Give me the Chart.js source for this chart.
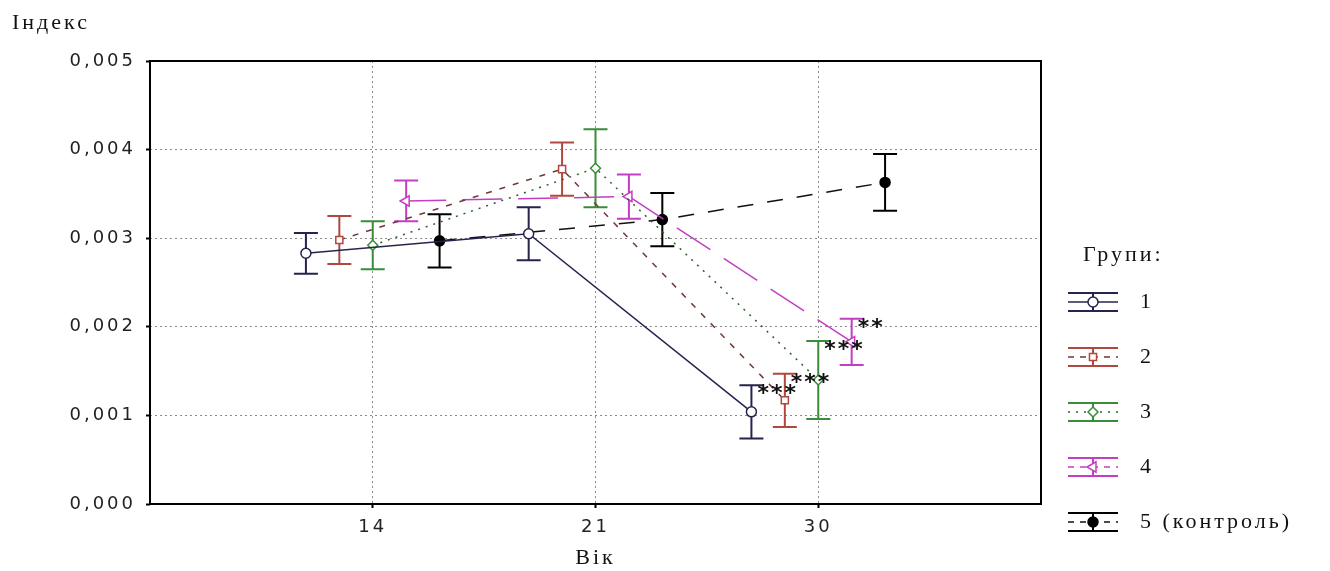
<!DOCTYPE html>
<html>
<head>
<meta charset="utf-8">
<script src="https://cdn.jsdelivr.net/npm/chart.js@4.4.0/dist/chart.umd.min.js"></script>
<style>
  html, body { margin: 0; padding: 0; background: #fff; }
  #wrap { width: 1330px; height: 571px; position: relative; }
</style>
</head>
<body>
<div id="wrap"><canvas id="indexChart"></canvas></div>
<script>
// вікові точки (доба)
const ages = ['14', '21', '30'];
const groupNames = ['1', '2', '3', '4', '5 (контроль)'];

// середні значення індексу по групах
const mean1 = [0.00283, 0.00305, 0.00104];
const mean2 = [0.00298, 0.00378, 0.00117];
const mean3 = [0.00292, 0.00379, 0.00140];
const mean4 = [0.00342, 0.00347, 0.00183];
const mean5 = [0.00297, 0.00321, 0.00363];

// похибка (півширина вусів)
const err1 = [0.00023, 0.00030, 0.00030];
const err2 = [0.00027, 0.00030, 0.00030];
const err3 = [0.00027, 0.00044, 0.00044];
const err4 = [0.00023, 0.00025, 0.00026];
const err5 = [0.00030, 0.00030, 0.00032];

// позначки достовірності на 30 добу
const stars30 = ['***', '***', '***', '**', ''];

const yTicks = [0, 0.001, 0.002, 0.003, 0.004, 0.005];

const means = [mean1, mean2, mean3, mean4, mean5];
const errs = [err1, err2, err3, err4, err5];

const colors = ['#24244e', '#b0483f', '#3a8c3a', '#c33ec3', '#000000'];
const lineColors = ['#24244e', '#6e3a34', '#2f5f2f', '#c33ec3', '#111111'];
const dashes = [[], [6, 8], [2, 6], [40, 16], [16, 14]];
const shapes = ['circle', 'rect', 'rectRot', 'triangle', 'circle'];
const rotations = [0, 0, 0, -90, 0];
const fills = ['#fff', '#fff', '#fff', '#fff', '#000'];

const SANS = '"DejaVu Sans"';
const SERIF = '"Liberation Serif"';

const datasets = means.map((m, g) => ({
    label: groupNames[g],
    data: m.map((v, i) => ({ x: i + 1 + (g - 2) * 0.15, y: v })),
    errors: errs[g],
    stars: ages.map((_, i) => i === 2 ? stars30[g] : ''),
    barColor: colors[g],
    borderColor: lineColors[g],
    borderWidth: 1.5,
    borderDash: dashes[g],
    pointStyle: shapes[g],
    rotation: rotations[g],
    pointRadius: g === 3 ? 6 : 5,
    pointBackgroundColor: fills[g],
    pointBorderColor: colors[g],
    pointBorderWidth: 1.5,
    fill: false,
    tension: 0
}));

// рамка + вуси похибок під лініями
const errorBars = {
    id: 'errorBars',
    beforeDatasetsDraw(chart) {
        const { ctx, chartArea: a, scales: { x, y } } = chart;
        ctx.save();
        ctx.strokeStyle = '#000';
        ctx.lineWidth = 2;
        ctx.strokeRect(a.left, a.top, a.right - a.left, a.bottom - a.top);
        chart.data.datasets.forEach(ds => {
            ctx.strokeStyle = ds.barColor;
            ctx.lineWidth = 2;
            ds.data.forEach((p, i) => {
                const px = x.getPixelForValue(p.x);
                const top = y.getPixelForValue(p.y + ds.errors[i]);
                const bot = y.getPixelForValue(p.y - ds.errors[i]);
                ctx.beginPath();
                ctx.moveTo(px, top); ctx.lineTo(px, bot);
                ctx.moveTo(px - 12, top); ctx.lineTo(px + 12, top);
                ctx.moveTo(px - 12, bot); ctx.lineTo(px + 12, bot);
                ctx.stroke();
            });
        });
        ctx.restore();
    }
};

// підписи, зірочки, легенда
const extras = {
    id: 'extras',
    beforeDraw(chart) {
        chart.ctx.letterSpacing = '3px';
    },
    afterDraw(chart) {
        const { ctx, scales: { x, y } } = chart;
        ctx.save();
        ctx.fillStyle = '#111';

        // назва осі Y
        ctx.font = '22px ' + SERIF;
        ctx.letterSpacing = '3px';
        ctx.textAlign = 'left';
        ctx.textBaseline = 'middle';
        ctx.fillText('Індекс', 12, 23);

        // зірочки біля верхнього вуса
        ctx.font = 'bold 22px ' + SANS;
        ctx.letterSpacing = '2px';
        ctx.textBaseline = 'alphabetic';
        const m = ctx.measureText('*');
        const shift = (m.actualBoundingBoxAscent - m.actualBoundingBoxDescent) / 2;
        chart.data.datasets.forEach(ds => {
            ds.data.forEach((p, i) => {
                if (!ds.stars[i]) return;
                const px = x.getPixelForValue(p.x);
                const top = y.getPixelForValue(p.y + ds.errors[i]);
                ctx.fillText(ds.stars[i], px + 6, top + 4 + shift);
            });
        });

        // легенда
        ctx.font = '22px ' + SERIF;
        ctx.letterSpacing = '3px';
        ctx.textBaseline = 'middle';
        ctx.fillText('Групи:', 1083, 255);
        chart.data.datasets.forEach((ds, g) => {
            const cy = 302 + g * 55;
            const cx = 1093;
            ctx.save();
            ctx.strokeStyle = ds.barColor;
            ctx.lineWidth = 2;
            ctx.beginPath();
            ctx.moveTo(cx - 25, cy - 9); ctx.lineTo(cx + 25, cy - 9);
            ctx.moveTo(cx - 25, cy + 9); ctx.lineTo(cx + 25, cy + 9);
            ctx.moveTo(cx, cy - 9); ctx.lineTo(cx, cy + 9);
            ctx.stroke();
            ctx.strokeStyle = ds.borderColor;
            ctx.lineWidth = 1.5;
            ctx.setLineDash(ds.borderDash.length ? ds.borderDash.map(d => Math.min(d, 6)) : []);
            ctx.beginPath();
            ctx.moveTo(cx - 25, cy); ctx.lineTo(cx + 25, cy);
            ctx.stroke();
            ctx.setLineDash([]);
            ctx.fillStyle = ds.pointBackgroundColor;
            ctx.strokeStyle = ds.pointBorderColor;
            Chart.helpers.drawPoint(ctx, {
                pointStyle: ds.pointStyle, rotation: ds.rotation,
                radius: ds.pointRadius, borderWidth: 1.5
            }, cx, cy);
            ctx.restore();
            ctx.fillText(ds.label, 1140, cy);
        });

        ctx.restore();
        ctx.letterSpacing = '0px';
    }
};

const gridStyle = {
    color: '#8a8a8a',
    lineWidth: 1,
    drawTicks: true,
    tickLength: 4,
    tickColor: '#000',
    tickWidth: 2
};

new Chart(document.getElementById('indexChart'), {
    type: 'line',
    data: { datasets: datasets },
    options: {
        responsive: true,
        maintainAspectRatio: false,
        animation: false,
        devicePixelRatio: 1,
        layout: { padding: { top: 61, right: 289, left: 0, bottom: 0 } },
        plugins: {
            legend: { display: false },
            tooltip: { enabled: false }
        },
        scales: {
            x: {
                type: 'linear',
                min: 0,
                max: 4,
                afterBuildTicks: s => { s.ticks = ages.map((_, i) => ({ value: i + 1 })); },
                afterFit: s => { s.height = 67; },
                ticks: {
                    callback: v => ages[v - 1],
                    color: '#222',
                    font: { family: SANS, size: 18 },
                    padding: 9,
                    maxRotation: 0
                },
                grid: gridStyle,
                border: { display: false, dash: [2, 3] },
                title: {
                    display: true,
                    text: 'Вік',
                    color: '#111',
                    font: { family: SERIF, size: 22, lineHeight: 1 },
                    padding: { top: 0, bottom: 2 }
                }
            },
            y: {
                min: 0,
                max: 0.005,
                afterBuildTicks: s => { s.ticks = yTicks.map(v => ({ value: v })); },
                afterFit: s => { s.width = 150; },
                ticks: {
                    callback: v => v.toFixed(3).replace('.', ','),
                    color: '#222',
                    font: { family: SANS, size: 18 },
                    padding: 10
                },
                grid: gridStyle,
                border: { display: false, dash: [2, 3] }
            }
        }
    },
    plugins: [errorBars, extras]
});
</script>
</body>
</html>
